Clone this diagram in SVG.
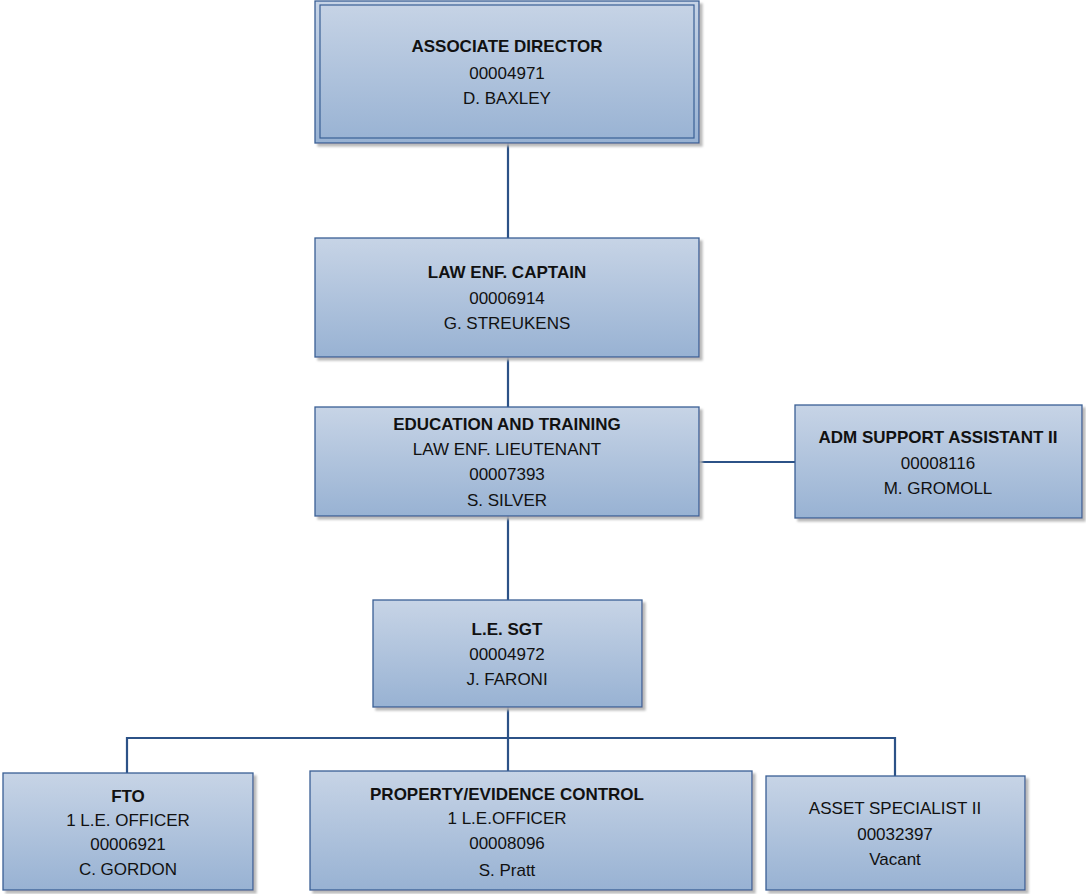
<svg xmlns="http://www.w3.org/2000/svg" width="1086" height="894" viewBox="0 0 1086 894">
<defs>
<linearGradient id="g" x1="0" y1="0" x2="0" y2="1">
<stop offset="0" stop-color="#c7d4e6"/>
<stop offset="1" stop-color="#98b2d3"/>
</linearGradient>
<filter id="sh" x="-5%" y="-5%" width="115%" height="120%">
<feOffset dx="3" dy="3" in="SourceAlpha" result="o"/>
<feGaussianBlur in="o" stdDeviation="1.2" result="b"/>
<feColorMatrix in="b" type="matrix" values="0 0 0 0 0.45 0 0 0 0 0.45 0 0 0 0 0.45 0 0 0 0.9 0"/>
<feMerge><feMergeNode/><feMergeNode in="SourceGraphic"/></feMerge>
</filter>
</defs>
<style>
.box{fill:url(#g);stroke:#3a5f95;stroke-width:1.3;filter:url(#sh)}
.inner{fill:none;stroke:#3a5f95;stroke-width:1.2}
text{font-family:"Liberation Sans",Arial,sans-serif;font-size:17px;fill:#111;text-anchor:middle}
.b{font-weight:bold}
.c{fill:none;stroke:#2c5287;stroke-width:2.2}
</style>
<g id="connectors">
<path class="c" d="M508 143V238M508 357V407M508 516V600M508 707V771M699 462H795M127 773V738H895V776"/>
</g>
<g id="associate-director">
<rect class="box" x="315" y="1" width="384" height="142"/>
<rect class="inner" x="320" y="5" width="374" height="133"/>
<text x="507" y="52" class="b">ASSOCIATE DIRECTOR</text>
<text x="507" y="79">00004971</text>
<text x="507" y="104">D. BAXLEY</text>
</g>
<g id="law-enf-captain">
<rect class="box" x="315" y="238" width="384" height="119"/>
<text x="507" y="278" class="b">LAW ENF. CAPTAIN</text>
<text x="507" y="304">00006914</text>
<text x="507" y="329">G. STREUKENS</text>
</g>
<g id="education-training">
<rect class="box" x="315" y="407" width="384" height="109"/>
<text x="507" y="430" class="b">EDUCATION AND TRAINING</text>
<text x="507" y="455">LAW ENF. LIEUTENANT</text>
<text x="507" y="480">00007393</text>
<text x="507" y="506">S. SILVER</text>
</g>
<g id="adm-support">
<rect class="box" x="795" y="405" width="287" height="113"/>
<text x="938" y="443" class="b">ADM SUPPORT ASSISTANT II</text>
<text x="938" y="469">00008116</text>
<text x="938" y="494">M. GROMOLL</text>
</g>
<g id="le-sgt">
<rect class="box" x="373" y="600" width="269" height="107"/>
<text x="507" y="635" class="b">L.E. SGT</text>
<text x="507" y="660">00004972</text>
<text x="507" y="685">J. FARONI</text>
</g>
<g id="fto">
<rect class="box" x="3" y="773" width="250" height="117"/>
<text x="128" y="802" class="b">FTO</text>
<text x="128" y="826">1 L.E. OFFICER</text>
<text x="128" y="850">00006921</text>
<text x="128" y="875">C. GORDON</text>
</g>
<g id="property-evidence">
<rect class="box" x="310" y="771" width="442" height="119"/>
<text x="507" y="800" class="b">PROPERTY/EVIDENCE CONTROL</text>
<text x="507" y="824">1 L.E.OFFICER</text>
<text x="507" y="849">00008096</text>
<text x="507" y="876">S. Pratt</text>
</g>
<g id="asset-specialist">
<rect class="box" x="766" y="776" width="259" height="114"/>
<text x="895" y="814">ASSET SPECIALIST II</text>
<text x="895" y="840">00032397</text>
<text x="895" y="865">Vacant</text>
</g>
</svg>
